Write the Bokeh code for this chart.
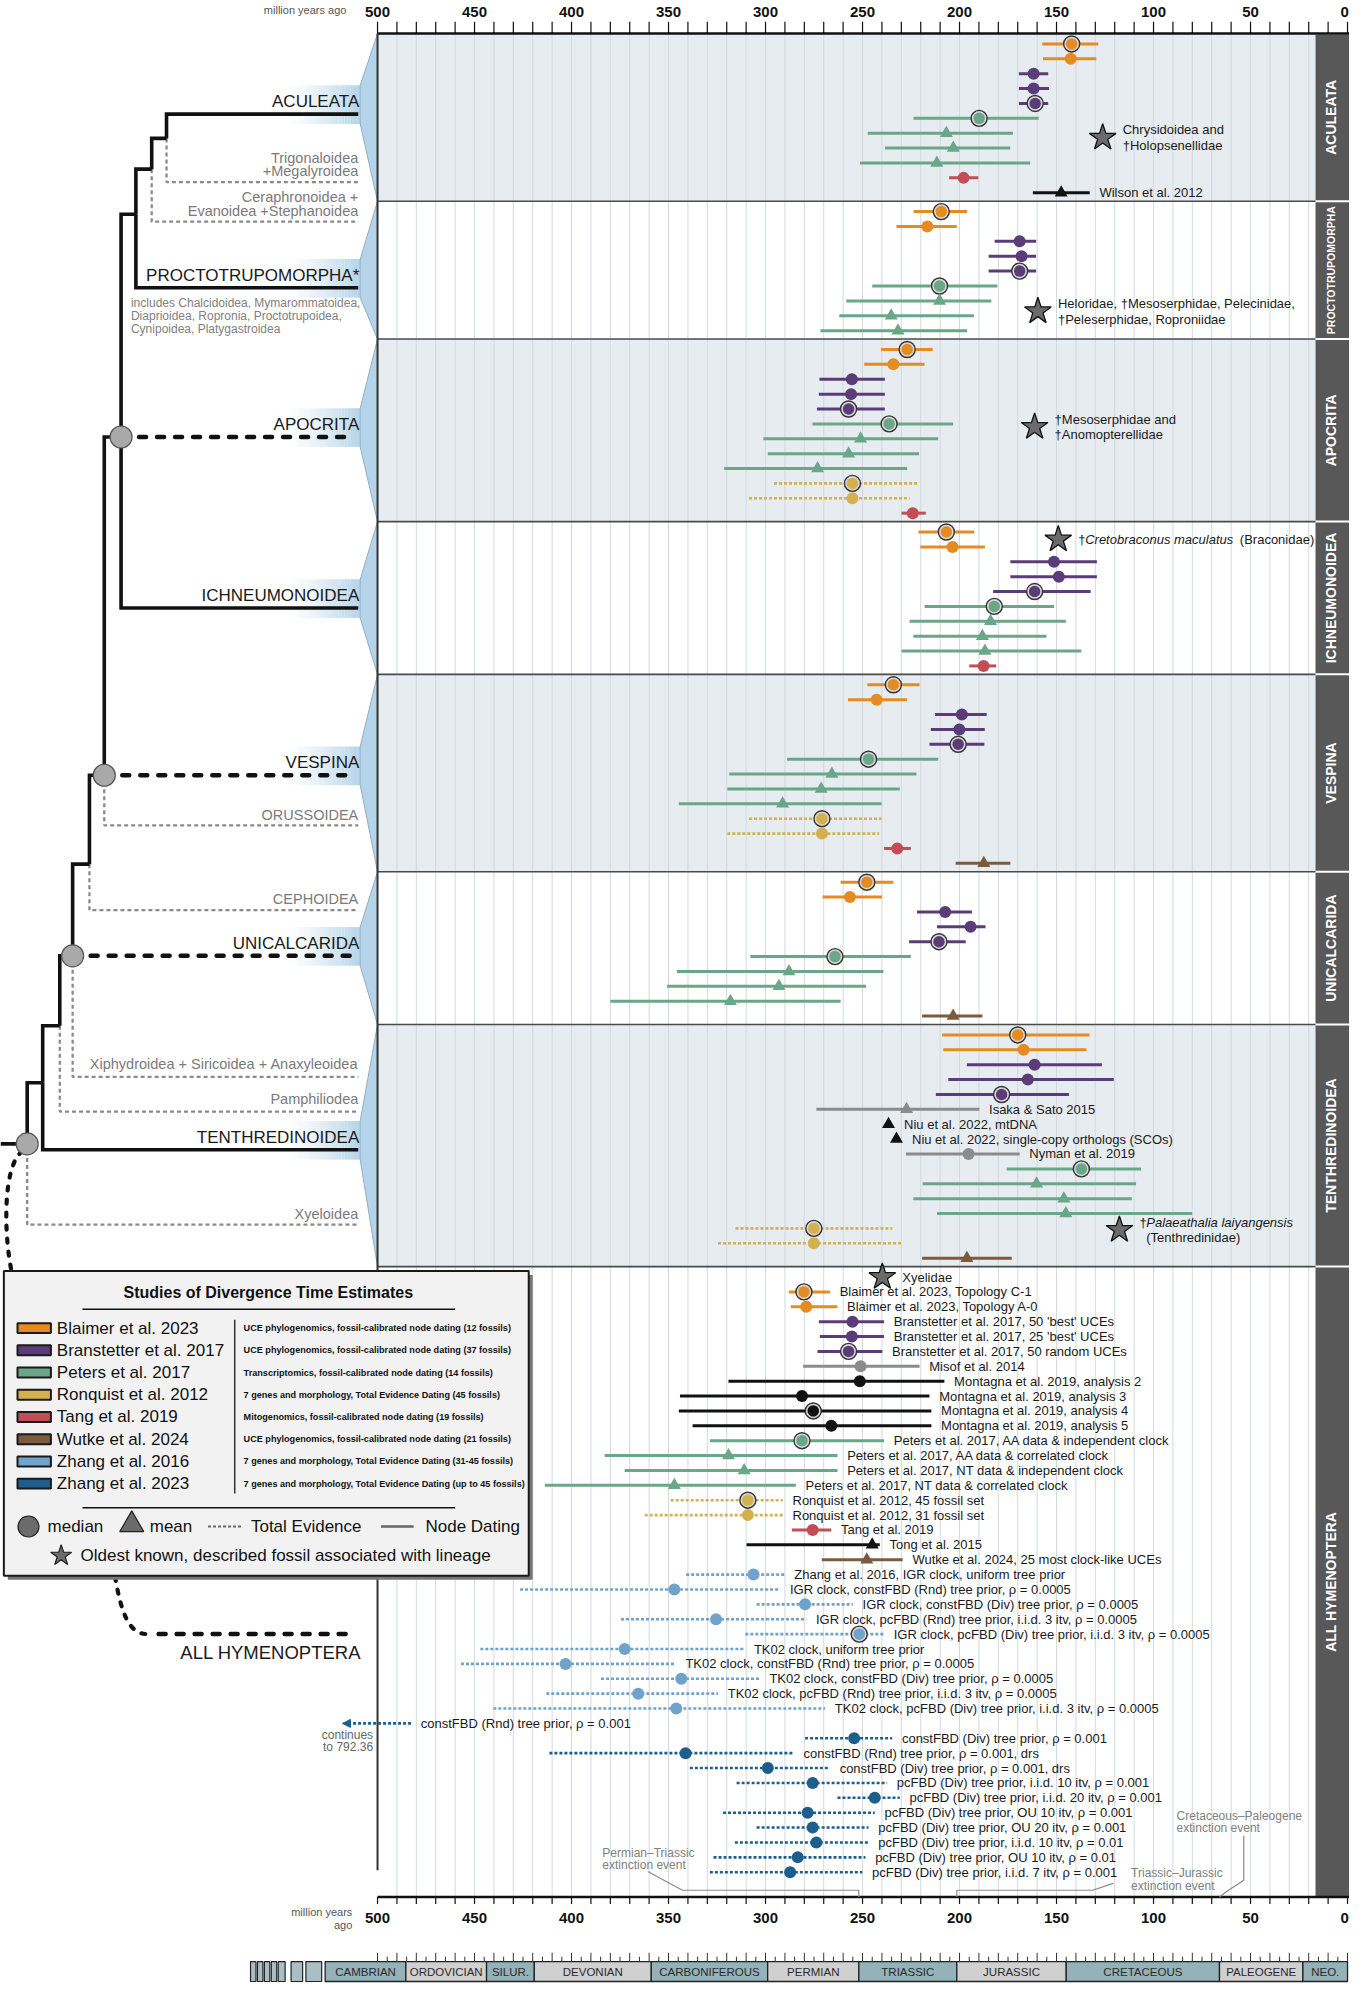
import math
import numpy as np
from bokeh.plotting import figure
from bokeh.models import Range1d, Arrow, NormalHead
from bokeh.core.properties import value
from bokeh.embed import file_html
from bokeh.resources import INLINE

NaN = float("nan")

# ======================= DATA =======================
study_keys = ["BL", "BR", "PE", "RO", "TA", "WU", "Z16", "Z23"]
study_names = ["Blaimer et al. 2023", "Branstetter et al. 2017", "Peters et al. 2017",
               "Ronquist et al. 2012", "Tang et al. 2019", "Wutke et al. 2024",
               "Zhang et al. 2016", "Zhang et al. 2023"]
study_methods = ["UCE phylogenomics, fossil-calibrated node dating (12 fossils)",
                 "UCE phylogenomics, fossil-calibrated node dating (37 fossils)",
                 "Transcriptomics, fossil-calibrated node dating  (14 fossils)",
                 "7 genes and morphology, Total Evidence Dating (45 fossils)",
                 "Mitogenomics, fossil-calibrated node dating (19 fossils)",
                 "UCE phylogenomics, fossil-calibrated node dating (21 fossils)",
                 "7 genes and morphology, Total Evidence Dating (31-45 fossils)",
                 "7 genes and morphology, Total Evidence Dating (up to 45 fossils)"]
study_colors = ["#e68a22", "#5c3b79", "#6aa688", "#d4b04f", "#c24d56", "#7b5a3d", "#6fa3cc", "#1d5e8d"]
other_keys = ["BK", "GR"]            # other studies drawn in black / grey
other_colors = ["#111111", "#8b8b8b"]
total_evidence_studies = ["RO", "Z16", "Z23"]

panel_names = ["ACULEATA", "PROCTOTRUPOMORPHA", "APOCRITA", "ICHNEUMONOIDEA",
               "VESPINA", "UNICALCARIDA", "TENTHREDINOIDEA", "ALL HYMENOPTERA"]

# stat codes: "m" median, "M" median of preferred analysis (ringed), "a" mean
aculeata_study = ["BL", "BL", "BR", "BR", "BR", "PE", "PE", "PE", "PE", "TA", "BK"]
aculeata_stat = ["M", "m", "m", "m", "M", "M", "a", "a", "a", "m", "a"]
aculeata_age = [142.2, 142.7, 161.8, 161.8, 161.0, 189.9, 206.8, 203.2, 211.7, 197.9, 147.6]
aculeata_old = [157.4, 157.0, 169.4, 169.4, 169.4, 223.7, 247.3, 238.4, 251.3, 205.4, 162.2]
aculeata_young = [128.5, 129.5, 154.3, 153.9, 154.3, 159.2, 172.5, 173.9, 163.6, 190.3, 132.9]
aculeata_label = ["", "", "", "", "", "", "", "", "", "", "Wilson et al. 2012"]

procto_study = ["BL", "BL", "BR", "BR", "BR", "PE", "PE", "PE", "PE"]
procto_stat = ["M", "m", "m", "m", "M", "M", "a", "a", "a"]
procto_age = [209.4, 216.6, 169.0, 168.0, 169.0, 210.3, 210.3, 235.2, 231.7]
procto_old = [223.7, 232.5, 181.9, 185.0, 185.0, 245.0, 258.4, 262.0, 271.7]
procto_young = [196.1, 201.4, 160.5, 160.5, 160.5, 180.5, 183.6, 192.6, 196.1]
procto_label = [""] * 9

apocrita_study = ["BL", "BL", "BR", "BR", "BR", "PE", "PE", "PE", "PE", "RO", "RO", "TA"]
apocrita_stat = ["M", "m", "m", "m", "M", "M", "a", "a", "a", "M", "m", "m"]
apocrita_age = [227.0, 234.1, 255.5, 255.9, 257.2, 236.3, 251.0, 257.2, 273.2, 255.2, 255.2, 224.1]
apocrita_old = [240.5, 249.1, 272.2, 272.5, 273.5, 275.8, 301.1, 298.8, 321.3, 295.6, 308.5, 229.9]
apocrita_young = [213.8, 218.0, 238.5, 238.5, 238.5, 203.3, 211.0, 220.9, 227.0, 221.9, 225.7, 217.4]
apocrita_label = [""] * 12

ichneu_study = ["BL", "BL", "BR", "BR", "BR", "PE", "PE", "PE", "PE", "TA"]
ichneu_stat = ["M", "m", "m", "m", "M", "M", "a", "a", "a", "m"]
ichneu_age = [206.8, 203.6, 151.3, 148.8, 161.3, 182.1, 184.0, 188.2, 186.9, 187.6]
ichneu_old = [221.2, 220.2, 173.8, 173.8, 182.7, 218.0, 225.7, 223.8, 229.9, 195.0]
ichneu_young = [192.4, 186.9, 129.2, 129.2, 132.4, 151.3, 145.2, 155.2, 137.2, 181.1]
ichneu_label = [""] * 10

vespina_study = ["BL", "BL", "BR", "BR", "BR", "PE", "PE", "PE", "PE", "RO", "RO", "TA", "WU"]
vespina_stat = ["M", "m", "m", "m", "M", "M", "a", "a", "a", "M", "m", "m", "a"]
vespina_age = [234.1, 242.7, 198.8, 200.1, 200.7, 246.9, 265.8, 271.3, 291.2, 270.9, 270.9, 232.1, 187.5]
vespina_old = [247.5, 257.5, 212.6, 214.8, 215.5, 288.9, 318.7, 319.7, 344.7, 308.5, 319.7, 238.9, 202.0]
vespina_young = [220.6, 227.0, 186.0, 187.0, 187.2, 211.0, 222.2, 230.8, 240.2, 240.2, 241.4, 225.1, 173.8]
vespina_label = [""] * 13

unical_study = ["BL", "BL", "BR", "BR", "BR", "PE", "PE", "PE", "PE", "WU"]
unical_stat = ["M", "m", "m", "m", "M", "M", "a", "a", "a", "a"]
unical_age = [247.8, 256.5, 207.4, 194.3, 210.6, 264.2, 287.9, 293.1, 318.1, 203.3]
unical_old = [261.3, 270.6, 221.9, 211.6, 226.0, 307.8, 345.7, 350.8, 380.0, 219.3]
unical_young = [234.1, 240.0, 193.6, 186.6, 196.8, 225.1, 239.2, 248.2, 261.3, 188.2]
unical_label = [""] * 10

tenthr_study = ["BL", "BL", "BR", "BR", "BR", "GR", "BK", "BK", "GR", "PE", "PE", "PE", "PE", "RO", "RO", "WU"]
tenthr_stat = ["M", "m", "m", "m", "M", "a", "a", "a", "m", "M", "a", "a", "a", "M", "m", "a"]
tenthr_age = [170.0, 167.0, 161.3, 164.8, 178.3, 227.3, 236.6, 232.5, 195.3, 137.2, 160.3, 146.2, 145.2, 275.1, 275.1, 196.2]
tenthr_old = [209.0, 208.4, 196.2, 205.8, 212.2, 273.8, NaN, NaN, 227.6, 175.7, 219.0, 223.8, 211.6, 315.5, 324.5, 219.3]
tenthr_young = [133.0, 134.6, 126.6, 120.5, 143.6, 189.8, NaN, NaN, 169.0, 106.4, 109.0, 111.2, 80.1, 234.7, 229.3, 173.1]
tenthr_label = ["", "", "", "", "", "Isaka & Sato 2015", "Niu et al. 2022, mtDNA",
                "Niu et al. 2022, single-copy orthologs (SCOs)", "Nyman et al. 2019",
                "", "", "", "", "", "", ""]

allhym_study = (["BL", "BL", "BR", "BR", "BR", "GR", "BK", "BK", "BK", "BK", "PE", "PE", "PE", "PE",
                 "RO", "RO", "TA", "BK", "WU"] + ["Z16"] * 10 + ["Z23"] * 11)
allhym_stat = (["M", "m", "m", "m", "M", "m", "m", "m", "M", "m", "M", "a", "a", "a", "M", "m", "m", "a", "a"]
               + ["m", "m", "m", "m", "M", "m", "m", "m", "m", "m"] + ["m"] * 11)
allhym_age = [280.2, 279.0, 255.2, 255.5, 257.2, 251.0, 251.4, 281.2, 275.4, 266.1,
              281.2, 319.1, 311.0, 347.0, 309.1, 309.1, 275.7, 245.0, 247.8,
              306.2, 347.0, 279.6, 325.5, 251.7, 372.6, 403.1, 343.4, 365.6, 346.0,
              NaN, 254.3, 341.2, 298.8, 275.7, 243.7, 278.3, 275.7, 273.8, 283.4, 287.3]
allhym_old = [288.0, 287.0, 272.5, 272.0, 273.2, 280.6, 319.1, 344.1, 344.7, 337.6,
              328.7, 382.9, 372.6, 413.7, 348.9, 362.3, 286.4, 309.8, 271.0,
              340.9, 426.5, 304.6, 374.5, 310.4, 447.0, 457.0, 384.8, 413.0, 440.3,
              792.36, 279.6, 411.4, 339.0, 314.9, 262.9, 321.9, 304.6, 315.8, 326.8, 328.7]
allhym_young = [266.8, 263.0, 238.9, 238.9, 239.8, 220.6, 207.8, 215.5, 214.5, 214.5,
                238.9, 262.9, 262.9, 284.4, 291.1, 291.1, 266.1, 241.1, 229.3,
                290.2, 292.4, 255.0, 279.0, 238.9, 311.0, 346.3, 303.0, 324.5, 269.3,
                482.7, 234.7, 285.4, 266.8, 237.3, 230.8, 243.7, 246.9, 246.9, 248.5, 250.1]
allhym_label = ["Blaimer et al. 2023, Topology C-1", "Blaimer et al. 2023, Topology A-0",
                "Branstetter et al. 2017, 50 'best' UCEs", "Branstetter et al. 2017, 25 'best' UCEs",
                "Branstetter et al. 2017, 50 random UCEs", "Misof et al. 2014",
                "Montagna et al. 2019, analysis 2", "Montagna et al. 2019, analysis 3",
                "Montagna et al. 2019, analysis 4", "Montagna et al. 2019, analysis 5",
                "Peters et al. 2017, AA data & independent clock", "Peters et al. 2017, AA data & correlated clock",
                "Peters et al. 2017, NT data & independent clock", "Peters et al. 2017, NT data & correlated clock",
                "Ronquist et al. 2012, 45 fossil set", "Ronquist et al. 2012, 31 fossil set",
                "Tang et al. 2019", "Tong et al. 2015", "Wutke et al. 2024, 25 most clock-like UCEs",
                "Zhang et al. 2016, IGR clock, uniform tree prior",
                "IGR clock, constFBD (Rnd) tree prior, ρ = 0.0005",
                "IGR clock, constFBD (Div) tree prior, ρ = 0.0005",
                "IGR clock, pcFBD (Rnd) tree prior, i.i.d. 3 itv, ρ = 0.0005",
                "IGR clock, pcFBD (Div) tree prior, i.i.d. 3 itv, ρ = 0.0005",
                "TK02 clock, uniform tree prior",
                "TK02 clock, constFBD (Rnd) tree prior,  ρ = 0.0005",
                "TK02 clock, constFBD (Div) tree prior,  ρ = 0.0005",
                "TK02 clock, pcFBD (Rnd) tree prior, i.i.d. 3 itv,  ρ = 0.0005",
                "TK02 clock, pcFBD (Div) tree prior, i.i.d. 3 itv,  ρ = 0.0005",
                "constFBD (Rnd) tree prior, ρ = 0.001",
                "constFBD (Div) tree prior, ρ  = 0.001",
                "constFBD (Rnd) tree prior,  ρ = 0.001, drs",
                "constFBD (Div) tree prior,  ρ = 0.001, drs",
                "pcFBD (Div) tree prior, i.i.d. 10 itv,  ρ = 0.001",
                "pcFBD (Div) tree prior,  i.i.d. 20 itv,  ρ = 0.001",
                "pcFBD (Div) tree prior, OU 10 itv,  ρ = 0.001",
                "pcFBD (Div) tree prior, OU 20 itv,  ρ = 0.001",
                "pcFBD (Div) tree prior, i.i.d. 10 itv,  ρ = 0.01",
                "pcFBD (Div) tree prior, OU 10 itv,  ρ = 0.01",
                "pcFBD (Div) tree prior, i.i.d. 7 itv,  ρ = 0.001"]

# oldest described fossils (stars)
star_panel = [0, 1, 2, 3, 6, 7]
star_age = [126.2, 159.6, 161.3, 149.1, 117.6, 239.8]
star_line1 = ["Chrysidoidea and", "Heloridae, †Mesoserphidae, Pelecinidae,", "†Mesoserphidae and",
              "†Cretobraconus maculatus (Braconidae)", "†Palaeathalia laiyangensis", "Xyelidae"]
star_line2 = ["†Holopsenellidae", "†Peleserphidae, Roproniidae", "†Anomopterellidae", "",
              "(Tenthredinidae)", ""]
star_italic = ["", "", "", "Cretobraconus maculatus", "Palaeathalia laiyangensis", ""]

# geological time scale
period_names = ["CAMBRIAN", "ORDOVICIAN", "SILUR.", "DEVONIAN", "CARBONIFEROUS", "PERMIAN",
                "TRIASSIC", "JURASSIC", "CRETACEOUS", "PALEOGENE", "NEO."]
period_start = [527.0, 485.4, 443.8, 419.2, 358.9, 298.9, 251.9, 201.4, 145.0, 66.0, 23.0]
period_end = [485.4, 443.8, 419.2, 358.9, 298.9, 251.9, 201.4, 145.0, 66.0, 23.0, 0.0]
extinction_names = ["Permian–Triassic", "Triassic–Jurassic", "Cretaceous–Paleogene"]
extinction_ages = [251.9, 201.4, 66.0]

axis_major_ticks = list(range(0, 501, 50))
axis_minor_ticks = list(range(0, 501, 10))

# ======================= LAYOUT =======================
K = 1.963          # px per Myr on the reference canvas
X500 = 381.5       # reference x of 500 Ma


def mx(px):
    """reference-canvas x (px) -> Ma coordinate used by the figure's x scale"""
    if isinstance(px, (list, tuple, np.ndarray)):
        return [500.0 - (v - X500) / K for v in px]
    return 500.0 - (px - X500) / K


FONT = value("Liberation Sans")
W, H = 1349, 1984

p = figure(width=W, height=H, x_range=Range1d(mx(0), mx(1365)), y_range=Range1d(2000, 0),
           output_backend="svg", toolbar_location=None, min_border=0,
           x_axis_type=None, y_axis_type=None)
p.grid.visible = False
p.outline_line_color = None
p.background_fill_color = "white"
p.border_fill_color = "white"

color_of = dict(zip(study_keys + other_keys, study_colors + other_colors))

panels = [
    (aculeata_study, aculeata_stat, aculeata_age, aculeata_old, aculeata_young, aculeata_label),
    (procto_study, procto_stat, procto_age, procto_old, procto_young, procto_label),
    (apocrita_study, apocrita_stat, apocrita_age, apocrita_old, apocrita_young, apocrita_label),
    (ichneu_study, ichneu_stat, ichneu_age, ichneu_old, ichneu_young, ichneu_label),
    (vespina_study, vespina_stat, vespina_age, vespina_old, vespina_young, vespina_label),
    (unical_study, unical_stat, unical_age, unical_old, unical_young, unical_label),
    (tenthr_study, tenthr_stat, tenthr_age, tenthr_old, tenthr_young, tenthr_label),
    (allhym_study, allhym_stat, allhym_age, allhym_old, allhym_young, allhym_label),
]
row_shift = [0, 0, 0, 0, 0, 0, 0, 1]      # ALL HYMENOPTERA keeps its first slot for the star
star_row = [6.3, 6.7, 5.2, 0.5, 13.1, 0.0]

S_ROW, PAD_T, PAD_B, PAD_LAST = 15.0, 10.5, 8.5, 25.0
Y_TOP = 33.3
tops, firsts, bottoms = [], [], []
yy = Y_TOP
for k, pan in enumerate(panels):
    n = len(pan[0]) + row_shift[k]
    tops.append(yy)
    firsts.append(yy + PAD_T)
    b = yy + PAD_T + (n - 1) * S_ROW + (PAD_LAST if k == len(panels) - 1 else PAD_B)
    bottoms.append(b)
    yy = b
Y_AXIS_B = bottoms[-1]
BAND_MA = 16.5
RIGHT_MA = mx(1365)
LEFT_BORDER_END = firsts[-1] + (len(panels[-1][0])) * S_ROW - 2

# ---------- panel backgrounds ----------
shaded = [0, 2, 4, 6]
p.quad(left=[500] * len(shaded), right=[BAND_MA] * len(shaded),
       top=[tops[k] for k in shaded], bottom=[bottoms[k] for k in shaded],
       fill_color="#e6ecf0", line_color=None)

# ---------- grid lines ----------
grid = [g for g in axis_minor_ticks if BAND_MA < g < 500]
p.segment(x0=grid, y0=[Y_TOP] * len(grid), x1=grid, y1=[Y_AXIS_B] * len(grid),
          line_color="#d3d9dd", line_width=1)

# ---------- right band with clade names ----------
p.quad(left=[BAND_MA] * len(panels), right=[RIGHT_MA] * len(panels),
       top=[t + 1 for t in tops], bottom=[b - 1 for b in bottoms],
       fill_color="#585858", line_color=None)
band_x = (BAND_MA + RIGHT_MA) / 2
for k, name in enumerate(panel_names):
    p.text(x=[band_x + 0.8], y=[(tops[k] + bottoms[k]) / 2], text=[name], angle=math.pi / 2,
           text_font=FONT, text_font_style="bold",
           text_font_size="10.5px" if len(name) > 16 else "14px",
           text_color="white", text_align="center", text_baseline="middle")

# ---------- tree layout (reference px) ----------
clade_line_y = [114.5, 289.6, 440.0, 612.4, 781.0, 963.0, 1158.5]
FUN_L, FUN_R = 364.0, X500
fx, fy = [], []
for k, ly in enumerate(clade_line_y):
    fx.append(mx([FUN_L, FUN_R, FUN_R, FUN_L]))
    fy.append([ly - 29, tops[k], bottoms[k], ly + 10])
NG = 24
gx = np.linspace(288, FUN_L, NG + 1)
for k, ly in enumerate(clade_line_y):
    p.quad(left=mx(list(gx[:-1])), right=mx(list(gx[1:])), top=[ly - 29] * NG, bottom=[ly + 10] * NG,
           fill_color="#b6d4e9", fill_alpha=list(np.linspace(0.0, 1.0, NG) ** 1.3), line_color=None)
p.patches(xs=fx, ys=fy, fill_color="#b6d4e9", line_color="#8fb0c6", line_width=1)

# panel separators, borders, axes
sep = bottoms[:-1]
p.segment(x0=[500] * len(sep), y0=sep, x1=[BAND_MA] * len(sep), y1=sep, line_color="#4a4a4a", line_width=1.6)
p.segment(x0=[500], y0=[Y_TOP], x1=[500], y1=[LEFT_BORDER_END], line_color="#333333", line_width=2)
p.segment(x0=[500], y0=[Y_TOP], x1=[RIGHT_MA], y1=[Y_TOP], line_color="#111111", line_width=2.5)
p.segment(x0=[500], y0=[Y_AXIS_B], x1=[RIGHT_MA], y1=[Y_AXIS_B], line_color="#111111", line_width=2.5)

# axis tick labels ("0" is right-aligned at the edge so it is not cut)
tick_x = [t if t > 0 else RIGHT_MA + 0.3 for t in axis_major_ticks]
tick_align = ["center" if t > 0 else "right" for t in axis_major_ticks]
tick_txt = [str(t) for t in axis_major_ticks]

# top axis
mt = axis_minor_ticks
p.segment(x0=mt, y0=[21.5] * len(mt), x1=mt, y1=[Y_TOP] * len(mt), line_color="#111111", line_width=1.2)
p.text(x=tick_x, y=[12] * len(tick_x), text=tick_txt, text_align=tick_align,
       text_font=FONT, text_font_style="bold", text_font_size="15px", text_color="#111111",
       text_baseline="middle")
p.text(x=[mx(350)], y=[10], text=["million years ago"], text_font=FONT, text_font_size="11px",
       text_color="#555555", text_align="right", text_baseline="middle")
# bottom axis
p.segment(x0=mt, y0=[Y_AXIS_B] * len(mt), x1=mt, y1=[Y_AXIS_B + 7] * len(mt), line_color="#111111", line_width=1.2)
p.text(x=tick_x, y=[1933] * len(tick_x), text=tick_txt, text_align=tick_align,
       text_font=FONT, text_font_style="bold", text_font_size="15px", text_color="#111111",
       text_baseline="middle")
p.text(x=[mx(356)] * 2, y=[1927, 1940], text=["million years", "ago"], text_font=FONT,
       text_font_size="11px", text_color="#555555", text_align="right", text_baseline="middle")

# ---------- tree ----------
tree_nodes = {"root": (27, 1152.6), "n1": (42.7, 1091), "n2": (60, 1033.5), "unical": (73, 963),
              "n3": (90, 870.6), "vespina": (105, 781), "apocrita": (122, 440), "n4": (137, 215.5),
              "n5": (153, 170), "n6": (168, 139)}
TIP_X = 362
tree_tips = {"ACULEATA": 114.5, "Trig": 183, "Ceraph": 223, "PROCTO": 289.6, "ICHNEU": 612.4,
             "Oruss": 831.5, "Ceph": 917, "Xiph": 1085, "Pamph": 1120, "TENTHR": 1158.5, "Xyel": 1234}
tree_edges = [("root", "Xyel", "g"), ("root", "n1", "k"), ("n1", "TENTHR", "k"), ("n1", "n2", "k"),
              ("n2", "Pamph", "g"), ("n2", "unical", "k"), ("unical", "Xiph", "g"), ("unical", "n3", "k"),
              ("n3", "Ceph", "g"), ("n3", "vespina", "k"), ("vespina", "Oruss", "g"),
              ("vespina", "apocrita", "k"), ("apocrita", "ICHNEU", "k"), ("apocrita", "n4", "k"),
              ("n4", "PROCTO", "k"), ("n4", "n5", "k"), ("n5", "Ceraph", "g"), ("n5", "n6", "k"),
              ("n6", "Trig", "g"), ("n6", "ACULEATA", "k")]
kx, ky, gxs, gys = [], [], [], []
for par, ch, st in tree_edges:
    px_, py_ = tree_nodes[par]
    if ch in tree_nodes:
        cx_, cy_ = tree_nodes[ch]
    else:
        cx_, cy_ = TIP_X, tree_tips[ch]
    path_x = mx([px_, px_, cx_])
    path_y = [py_, cy_, cy_]
    if st == "k":
        kx.append(path_x); ky.append(path_y)
    else:
        gxs.append(path_x); gys.append(path_y)
p.multi_line(xs=gxs, ys=gys, line_color="#8a8a8a", line_width=2.3, line_dash="4 3")
p.multi_line(xs=kx, ys=ky, line_color="#111111", line_width=3.6, line_join="miter")
# root stub
p.segment(x0=[mx(0)], y0=[1152.6], x1=[mx(27)], y1=[1152.6], line_color="#111111", line_width=3.6)
# dashed stems of clades with uncertain placement
stem_nodes = ["apocrita", "vespina", "unical"]
p.segment(x0=[mx(tree_nodes[n][0]) for n in stem_nodes], y0=[tree_nodes[n][1] for n in stem_nodes],
          x1=[mx(355)] * 3, y1=[tree_nodes[n][1] for n in stem_nodes],
          line_color="#111111", line_width=4.5, line_dash="7 11", line_cap="round")
# path to ALL HYMENOPTERA
p.bezier(x0=[mx(22)], y0=[1160], x1=[mx(12)], y1=[1285], cx0=[mx(2)], cy0=[1175], cx1=[mx(3)], cy1=[1245],
         line_color="#111111", line_width=4.2, line_dash="4 9", line_cap="round")
p.bezier(x0=[mx(116)], y0=[1589], x1=[mx(148)], y1=[1646.7], cx0=[mx(122)], cy0=[1625], cx1=[mx(130)],
         cy1=[1646.7], line_color="#111111", line_width=4.2, line_dash="4 9", line_cap="round")
p.segment(x0=[mx(160)], y0=[1646.7], x1=[mx(358)], y1=[1646.7], line_color="#111111", line_width=4.5,
          line_dash="7 11", line_cap="round")
node_keys = ["apocrita", "vespina", "unical", "root"]
p.scatter(x=[mx(tree_nodes[n][0]) for n in node_keys], y=[tree_nodes[n][1] for n in node_keys],
          marker="circle", size=22, fill_color="#a9a9a9", line_color="#555555", line_width=1.2)

# clade labels
main_lbl = ["ACULEATA", "PROCTOTRUPOMORPHA*", "APOCRITA", "ICHNEUMONOIDEA", "VESPINA", "UNICALCARIDA",
            "TENTHREDINOIDEA"]
p.text(x=[mx(363)] * 7, y=[ly - 12.5 for ly in clade_line_y], text=main_lbl, text_font=FONT,
       text_font_size="17px", text_color="#1a1a1a", text_align="right", text_baseline="middle")
p.text(x=[mx(365)], y=[1665], text=["ALL HYMENOPTERA"], text_font=FONT, text_font_size="18.5px",
       text_color="#1a1a1a", text_align="right", text_baseline="middle")
sub_txt = ["Trigonaloidea", "+Megalyroidea", "Ceraphronoidea +", "Evanoidea +Stephanoidea", "ORUSSOIDEA",
           "CEPHOIDEA", "Xiphydroidea + Siricoidea + Anaxyleoidea", "Pamphiliodea", "Xyeloidea"]
sub_y = [159, 172, 198, 212, 821, 906, 1072, 1107, 1223]
p.text(x=[mx(362)] * len(sub_txt), y=sub_y, text=sub_txt, text_font=FONT, text_font_size="14.5px",
       text_color="#7a7a7a", text_align="right", text_baseline="middle")
p.text(x=[mx(132)] * 3, y=[305, 318, 331],
       text=["includes Chalcidoidea, Mymarommatoidea,", "Diaprioidea, Ropronia, Proctotrupoidea,",
             "Cynipoidea, Platygastroidea"],
       text_font=FONT, text_font_size="12px", text_color="#808080", text_align="left", text_baseline="middle")

# ---------- estimates ----------
seg = {True: dict(x0=[], x1=[], y=[], c=[]), False: dict(x0=[], x1=[], y=[], c=[])}
mk = {"m": dict(x=[], y=[], c=[]), "M": dict(x=[], y=[], c=[]), "a": dict(x=[], y=[], c=[])}
lab = dict(x=[], y=[], t=[])
arrows = []
for k, (st, sa, ag, od, yg, lb) in enumerate(panels):
    for i in range(len(st)):
        y = firsts[k] + (i + row_shift[k]) * S_ROW
        col = color_of[st[i]]
        te = st[i] in total_evidence_studies
        if not math.isnan(od[i]):
            if od[i] > 500:
                arrows.append((yg[i], y, col))
            else:
                seg[te]["x0"].append(od[i]); seg[te]["x1"].append(yg[i])
                seg[te]["y"].append(y); seg[te]["c"].append(col)
        if not math.isnan(ag[i]):
            mk[sa[i]]["x"].append(ag[i]); mk[sa[i]]["y"].append(y); mk[sa[i]]["c"].append(col)
        if lb[i]:
            lab["x"].append((yg[i] - 5) if not math.isnan(yg[i]) else ag[i] - 8)
            lab["y"].append(y); lab["t"].append(lb[i])

p.segment(x0=seg[False]["x0"], y0=seg[False]["y"], x1=seg[False]["x1"], y1=seg[False]["y"],
          line_color=seg[False]["c"], line_width=3)
p.segment(x0=seg[True]["x0"], y0=seg[True]["y"], x1=seg[True]["x1"], y1=seg[True]["y"],
          line_color=seg[True]["c"], line_width=2.6, line_dash="3 2")
for (x_young, y, col) in arrows:
    p.add_layout(Arrow(end=NormalHead(size=8, fill_color=col, line_color=col),
                       x_start=x_young, y_start=y, x_end=mx(346), y_end=y,
                       line_color=col, line_width=2.6, line_dash="3 2"))
p.text(x=[mx(377)] * 2, y=[1748, 1760.5], text=["continues", "to 792.36"], text_font=FONT,
       text_font_size="12px", text_color="#666666", text_align="right", text_baseline="middle")

p.scatter(x=mk["M"]["x"], y=mk["M"]["y"], marker="circle", size=16, fill_color="#d8d8d8",
          line_color="#333333", line_width=1.4)
p.scatter(x=mk["M"]["x"], y=mk["M"]["y"], marker="circle", size=11.5, fill_color=mk["M"]["c"], line_color=None)
p.scatter(x=mk["m"]["x"], y=mk["m"]["y"], marker="circle", size=12, fill_color=mk["m"]["c"], line_color=None)
p.scatter(x=mk["a"]["x"], y=mk["a"]["y"], marker="triangle", size=13, fill_color=mk["a"]["c"], line_color=None)
p.text(x=lab["x"], y=lab["y"], text=lab["t"], text_font=FONT, text_font_size="13px", text_color="#1a1a1a",
       text_align="left", text_baseline="middle")

# stars = oldest known fossils
sx, sy = [], []
for j, k in enumerate(star_panel):
    sx.append(star_age[j]); sy.append(firsts[k] + star_row[j] * S_ROW)
p.scatter(x=sx, y=sy, marker="star", size=28, fill_color="#6b6b6b", line_color="#111111", line_width=1.3)


def text_w(s, size):
    w = 0.0
    for ch in s:
        if ch == " ":
            w += 0.28
        elif ch.isupper():
            w += 0.70
        elif ch in "ilj.,'":
            w += 0.24
        else:
            w += 0.53
    return w * size


for j in range(len(star_panel)):
    x, y = sx[j], sy[j]
    two = bool(star_line2[j])
    y1 = y - 7.8 if two else y
    it = star_italic[j]
    if it:
        pre, post = star_line1[j].split(it)
        p.text(x=[x], y=[y1], text=[pre], x_offset=20, text_font=FONT, text_font_size="13px",
               text_color="#1a1a1a", text_baseline="middle")
        o2 = 20 + text_w(pre, 13)
        p.text(x=[x], y=[y1], text=[it], x_offset=o2, text_font=FONT, text_font_size="13px",
               text_font_style="italic", text_color="#1a1a1a", text_baseline="middle")
        if post:
            p.text(x=[x], y=[y1], text=[post], x_offset=o2 + text_w(it, 13) + 1, text_font=FONT,
                   text_font_size="13px", text_color="#1a1a1a", text_baseline="middle")
    else:
        p.text(x=[x], y=[y1], text=[star_line1[j]], x_offset=20, text_font=FONT, text_font_size="13px",
               text_color="#1a1a1a", text_baseline="middle")
    if two:
        off = 20 + (text_w("†", 13) if star_line2[j].startswith("(") and it else 0)
        p.text(x=[x], y=[y + 7.8], text=[star_line2[j]], x_offset=off, text_font=FONT,
               text_font_size="13px", text_color="#1a1a1a", text_baseline="middle")

# ---------- extinction events ----------
ext_text_x = [609, 1144, 1190]
ext_text_y = [1867, 1888, 1830]
for j, nm in enumerate(extinction_names):
    p.text(x=[mx(ext_text_x[j])] * 2, y=[ext_text_y[j], ext_text_y[j] + 12.5], text=[nm, "extinction event"],
           text_font=FONT, text_font_size="12px", text_color="#808080", text_align="left", text_baseline="middle")
a0, a1, a2 = extinction_ages
p.multi_line(
    xs=[[mx(655), mx(690), a0, a0], [mx(1126), mx(1105), a1, a1], [mx(1258), mx(1258), mx(1241), a2]],
    ys=[[1886, 1905, 1905, Y_AXIS_B], [1898, 1905, 1905, Y_AXIS_B], [1850, 1895, 1906, Y_AXIS_B]],
    line_color="#8a8a8a", line_width=1.2)

# ---------- geological time scale ----------
GT, GB = 1977, 1997
per_cols = ["#93b2b9" if i % 2 == 0 else "#d0d0d0" for i in range(len(period_names))]
p.quad(left=period_start, right=period_end, top=[GT] * len(period_names), bottom=[GB] * len(period_names),
       fill_color=per_cols, line_color="#222222", line_width=1.3)
p.text(x=[(a + b) / 2 for a, b in zip(period_start, period_end)], y=[(GT + GB) / 2] * len(period_names),
       text=period_names, text_font=FONT, text_font_size="11.5px", text_color="#2a2a2a",
       text_align="center", text_baseline="middle")
stub_l = [253, 260, 267, 274, 281, 294, 309]
stub_r = [258.5, 265.5, 272.5, 279.5, 288, 305.7, 325]
p.quad(left=mx(stub_l), right=mx(stub_r), top=[GT] * 7, bottom=[GB] * 7, fill_color="#a9bfc4",
       line_color="#222222", line_width=1.2)
t5 = list(range(0, 501, 5))
p.segment(x0=t5, y0=[GT - (9 if t % 10 == 0 else 5) for t in t5], x1=t5, y1=[GT] * len(t5),
          line_color="#333333", line_width=1)

# ---------- legend ----------
LX0, LX1, LY0, LY1 = 3.4, 534.5, 1280.7, 1588
p.quad(left=[mx(LX0 + 4)], right=[mx(LX1 + 4)], top=[LY0 + 4], bottom=[LY1 + 4], fill_color="#777777",
       line_color=None)
p.quad(left=[mx(LX0)], right=[mx(LX1)], top=[LY0], bottom=[LY1], fill_color="#f2f2f2",
       line_color="#1a1a1a", line_width=2)
p.text(x=[mx(271)], y=[1302], text=["Studies of Divergence Time Estimates"], text_font=FONT,
       text_font_style="bold", text_font_size="16px", text_color="#111111", text_align="center",
       text_baseline="middle")
p.segment(x0=[mx(83)] * 2, y0=[1319.3, 1519.3], x1=[mx(460)] * 2, y1=[1319.3, 1519.3],
          line_color="#111111", line_width=1.5)
ly = [1338.3 + i * 22.4 for i in range(len(study_names))]
p.quad(left=[mx(17.2)] * 8, right=[mx(51)] * 8, top=[v - 5 for v in ly], bottom=[v + 5 for v in ly],
       fill_color=study_colors, line_color="#1a1a1a", line_width=2)
p.text(x=[mx(57)] * 8, y=ly, text=study_names, text_font=FONT, text_font_size="17px", text_color="#111111",
       text_align="left", text_baseline="middle")
p.segment(x0=[mx(237)], y0=[1330], x1=[mx(237)], y1=[1505], line_color="#333333", line_width=1.5)
p.text(x=[mx(246)] * 8, y=ly, text=study_methods, text_font=FONT, text_font_style="bold",
       text_font_size="9.1px", text_color="#111111", text_align="left", text_baseline="middle")
p.scatter(x=[mx(28.3)], y=[1538.3], marker="circle", size=21, fill_color="#6b6b6b", line_color="#222222",
          line_width=1.2)
p.scatter(x=[mx(132.8)], y=[1536.5], marker="triangle", size=24, fill_color="#6b6b6b", line_color="#222222",
          line_width=1.2)
p.segment(x0=[mx(210)], y0=[1538.3], x1=[mx(245)], y1=[1538.3], line_color="#666666", line_width=2,
          line_dash="3 2")
p.segment(x0=[mx(385)], y0=[1538.3], x1=[mx(418)], y1=[1538.3], line_color="#666666", line_width=2.5)
p.text(x=mx([47.6, 151, 253.4, 430]), y=[1538.3] * 4, text=["median", "mean", "Total Evidence", "Node Dating"],
       text_font=FONT, text_font_size="17px", text_color="#111111", text_align="left", text_baseline="middle")
p.scatter(x=[mx(61.4)], y=[1567.7], marker="star", size=22, fill_color="#6b6b6b", line_color="#222222",
          line_width=1.2)
p.text(x=[mx(81)], y=[1567.7], text=["Oldest known, described fossil associated with lineage"], text_font=FONT,
       text_font_size="17px", text_color="#111111", text_align="left", text_baseline="middle")

open("out.html", "w").write(file_html(p, INLINE))
